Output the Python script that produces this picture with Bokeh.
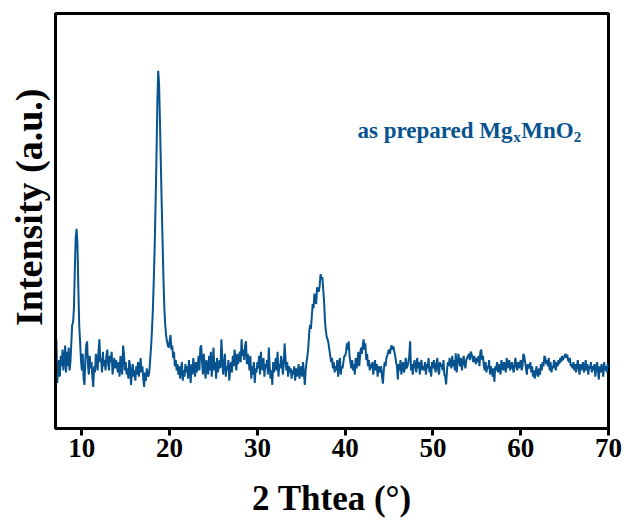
import numpy as np
from bokeh.plotting import figure
from bokeh.models import Label, FixedTicker, Range1d, Title
from bokeh.embed import file_html
from bokeh.resources import INLINE

# 2-theta sampling: 7.0 .. 70.0 deg, 0.1 deg step
two_theta_start = 7.0
two_theta_step = 0.1

# intensity (a.u.), one row per degree
intensity = [
    150, 215, 110, 140, 165, 125, 175, 150, 190, 140,   # 7
    170, 200, 135, 185, 150, 195, 140, 160, 205, 250,   # 8
    255, 290, 380, 460, 481, 445, 340, 250, 210, 165,   # 9
    140, 180, 120, 105, 165, 200, 210, 150, 130, 175,   # 10
    145, 160, 125, 100, 150, 135, 180, 165, 140, 185,   # 11
    215, 160, 170, 135, 185, 150, 165, 140, 175, 190,   # 12
    155, 140, 175, 160, 185, 130, 150, 170, 145, 165,   # 13
    150, 135, 160, 125, 175, 145, 130, 200, 180, 140,   # 14
    160, 130, 145, 120, 165, 150, 105, 135, 155, 125,   # 15
    140, 115, 150, 130, 160, 125, 145, 170, 135, 150,   # 16
    120, 100, 135, 115, 145, 130, 125, 140, 170, 200,   # 17
    240, 290, 360, 440, 540, 650, 780, 862, 830, 740,   # 18
    640, 540, 450, 360, 290, 250, 225, 210, 200, 195,   # 19
    210, 225, 190, 200, 170, 185, 150, 165, 140, 155,   # 20
    130, 150, 120, 145, 160, 115, 140, 125, 155, 135,   # 21
    150, 120, 165, 140, 110, 155, 130, 170, 145, 125,   # 22
    160, 135, 150, 175, 140, 195, 200, 160, 130, 180,   # 23
    145, 120, 165, 150, 130, 175, 140, 185, 125, 155,   # 24
    195, 140, 160, 120, 170, 135, 150, 165, 145, 215,   # 25
    170, 130, 155, 180, 125, 150, 140, 165, 115, 145,   # 26
    160, 135, 175, 150, 190, 165, 140, 180, 155, 170,   # 27
    185, 160, 215, 175, 190, 165, 200, 210, 155, 180,   # 28
    165, 140, 175, 120, 150, 130, 160, 110, 145, 135,   # 29
    160, 145, 175, 130, 185, 150, 140, 170, 125, 155,   # 30
    145, 165, 130, 195, 150, 120, 140, 105, 160, 135,   # 31
    150, 170, 140, 185, 125, 155, 145, 175, 160, 130,   # 32
    155, 205, 170, 140, 160, 125, 150, 135, 145, 120,   # 33
    140, 130, 150, 115, 145, 125, 135, 155, 120, 140,   # 34
    150, 125, 160, 135, 105, 140, 160, 175, 195, 230,   # 35
    250, 240, 270, 300, 290, 325, 310, 300, 340, 335,   # 36
    330, 345, 372, 360, 365, 335, 305, 260, 235, 220,   # 37
    215, 205, 190, 175, 160, 170, 145, 160, 135, 150,   # 38
    140, 165, 125, 155, 170, 130, 150, 145, 160, 175,   # 39
    175, 185, 205, 190, 210, 175, 160, 145, 165, 140,   # 40
    155, 130, 170, 145, 160, 185, 150, 175, 195, 180,   # 41
    200, 215, 190, 205, 165, 180, 150, 165, 140, 155,   # 42
    145, 160, 130, 150, 165, 140, 155, 125, 150, 145,   # 43
    135, 150, 125, 108, 140, 160, 150, 170, 175, 185,   # 44
    190, 180, 195, 200, 190, 198, 185, 175, 160, 150,   # 45
    118, 155, 140, 165, 130, 150, 160, 135, 145, 170,   # 46
    145, 150, 160, 175, 210, 140, 155, 130, 150, 165,   # 47
    150, 135, 170, 145, 160, 130, 155, 165, 140, 150,   # 48
    140, 160, 130, 155, 145, 170, 135, 150, 125, 160,   # 49
    145, 165, 150, 135, 155, 170, 140, 130, 160, 150,   # 50
    155, 140, 165, 130, 125, 106, 140, 160, 150, 170,   # 51
    155, 145, 175, 150, 165, 140, 181, 135, 155, 180,   # 52
    165, 150, 170, 140, 160, 175, 155, 145, 165, 170,   # 53
    175, 180, 165, 185, 180, 170, 160, 175, 165, 155,   # 54
    170, 160, 175, 150, 185, 190, 165, 175, 150, 140,   # 55
    160, 135, 150, 145, 165, 130, 150, 140, 125, 145,   # 56
    113, 150, 140, 160, 135, 155, 145, 130, 165, 150,   # 57
    140, 160, 150, 135, 170, 145, 155, 165, 140, 150,   # 58
    160, 145, 135, 155, 170, 150, 140, 160, 145, 155,   # 59
    165, 140, 150, 180, 175, 160, 145, 130, 155, 150,   # 60
    145, 160, 135, 150, 125, 140, 120, 135, 150, 130,   # 61
    125, 145, 130, 155, 140, 160, 150, 175, 170, 155,   # 62
    165, 150, 170, 140, 160, 135, 150, 145, 165, 155,   # 63
    140, 160, 150, 165, 155, 170, 160, 175, 165, 170,   # 64
    175, 180, 170, 178, 165, 160, 170, 150, 155, 145,   # 65
    160, 140, 155, 135, 150, 165, 145, 130, 155, 140,   # 66
    150, 160, 135, 145, 165, 140, 155, 130, 150, 145,   # 67
    160, 135, 150, 140, 155, 125, 145, 160, 140, 118,   # 68
    150, 135, 155, 145, 125, 160, 140, 150, 135, 155,   # 69
    145,                                                # 70
]

x_ticks = [10, 20, 30, 40, 50, 60, 70]
x_title = "2 Thtea (\u00b0)"
y_title = "Intensity (a.u.)"
label_main = "as prepared Mg"
label_sub1 = "x"
label_mid = "MnO"
label_sub2 = "2"

two_theta = two_theta_start + two_theta_step * np.arange(len(intensity))

BLUE = "#06538f"
FONT = "Liberation Serif"

p = figure(width=624, height=526, output_backend="svg", toolbar_location=None,
           x_range=Range1d(7, 70), y_range=Range1d(0, 1000),
           min_border_left=55, min_border_right=16, min_border_top=13,
           min_border_bottom=98)

p.line(two_theta, intensity, line_color=BLUE, line_width=2)

p.xgrid.visible = False
p.ygrid.visible = False
p.outline_line_color = "black"
p.outline_line_width = 3
p.outline_line_alpha = 1.0

# x axis
xa = p.xaxis[0]
xa.ticker = FixedTicker(ticks=x_ticks)
xa.minor_tick_line_color = None
xa.major_tick_in = 0
xa.major_tick_out = 7
xa.major_tick_line_width = 3
xa.axis_line_width = 3
xa.major_label_text_font = FONT
xa.major_label_text_font_style = "bold"
xa.major_label_text_font_size = "27px"
xa.major_label_text_color = "black"
xa.major_label_standoff = 3
xa.axis_label = x_title
xa.axis_label_text_font = FONT
xa.axis_label_text_font_style = "bold"
xa.axis_label_text_font_size = "35px"
xa.axis_label_text_color = "black"
xa.axis_label_standoff = 19

# y axis (no ticks); its title is a left-side Title so it can sit a bit above centre
ya = p.yaxis[0]
ya.ticker = FixedTicker(ticks=[])
ya.minor_tick_line_color = None
ya.major_tick_in = 0
ya.major_tick_out = 0
ya.axis_line_width = 3
ya.major_label_text_font_size = "0px"

p.add_layout(Title(text=y_title, align="right", offset=75, standoff=11,
                   text_font=FONT, text_font_style="bold",
                   text_font_size="38px", text_color="black"), "left")

# annotation with subscripts
ax0, ay0 = 41.4, 718
main_px, sub_px = 23, 15
w_main = 6.777 * main_px
w_sub = 0.5 * sub_px
w_mid = 2.278 * main_px
pieces = [
    (label_main, 0, 0, main_px),
    (label_sub1, w_main, -6, sub_px),
    (label_mid, w_main + w_sub + 0.5, 0, main_px),
    (label_sub2, w_main + w_sub + 0.5 + w_mid, -6, sub_px),
]
for txt, dx, dy, fs in pieces:
    p.add_layout(Label(x=ax0, y=ay0, x_offset=dx, y_offset=dy, text=txt,
                       text_font=FONT, text_font_style="bold",
                       text_font_size=f"{fs}px", text_color=BLUE,
                       text_baseline="alphabetic", text_align="left"))

open("out.html", "w").write(file_html(p, INLINE))
